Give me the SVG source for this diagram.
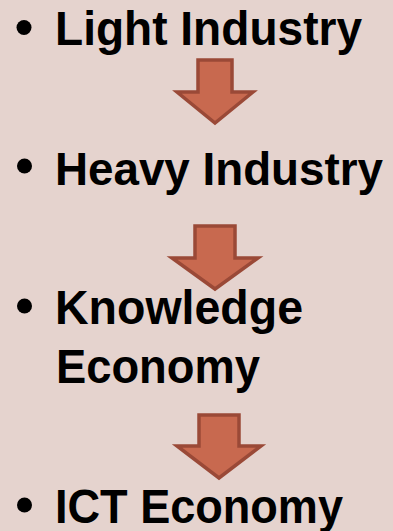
<svg xmlns="http://www.w3.org/2000/svg" width="393" height="531" viewBox="0 0 393 531">
  <style>
    .t { font-family: "Liberation Sans", Arial, sans-serif; font-weight: bold; font-size: 48px; fill: #000; }
    .b { fill: #000; }
    .arr { fill: #c8694f; stroke: #9a4937; stroke-width: 3.5; stroke-linejoin: miter; }
  </style>
  <rect width="393" height="531" fill="#e5d3ce"/>
  <g id="node-light">
    <circle class="b" cx="24" cy="27.5" r="7.5"/>
    <text class="t" x="55" y="45" textLength="307" lengthAdjust="spacingAndGlyphs">Light Industry</text>
  </g>
  <g id="node-heavy">
    <circle class="b" cx="24.5" cy="166" r="7.5"/>
    <text class="t" x="55" y="185" font-size="47" style="font-size:47px" textLength="328" lengthAdjust="spacingAndGlyphs">Heavy Industry</text>
  </g>
  <g id="node-knowledge">
    <circle class="b" cx="24.5" cy="306" r="7.5"/>
    <text class="t" x="55" y="324" textLength="248" lengthAdjust="spacingAndGlyphs">Knowledge</text>
    <text class="t" x="56" y="383" textLength="204" lengthAdjust="spacingAndGlyphs">Economy</text>
  </g>
  <g id="node-ict">
    <circle class="b" cx="24.5" cy="505" r="7.5"/>
    <text class="t" x="55" y="523" textLength="288" lengthAdjust="spacingAndGlyphs">ICT Economy</text>
  </g>
  <g id="connectors">
    <polygon class="arr" points="198,60 232,60 232,92 253,92 215,123 177,92 198,92"/>
    <polygon class="arr" points="195,226 235,226 235,258 258,258 215,289 172,258 195,258"/>
    <polygon class="arr" points="199,415 239,415 239,446 261,446 219,478 177,446 199,446"/>
  </g>
</svg>
